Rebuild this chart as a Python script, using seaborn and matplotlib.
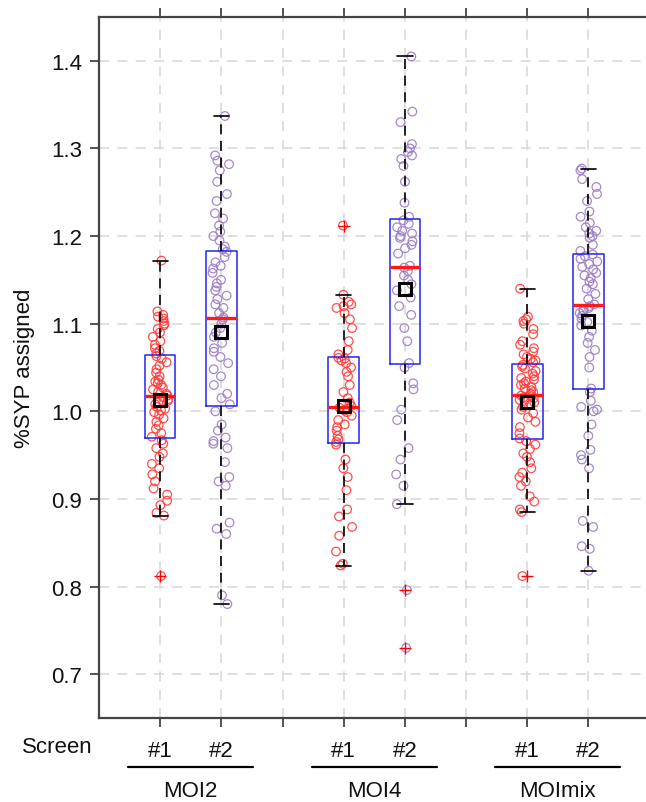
import numpy as np
import pandas as pd
import seaborn as sns
import matplotlib.pyplot as plt

groups = ['MOI2', 'MOI4', 'MOImix']
screens = ['#1', '#2']

# %SYP assigned per group / screen
moi2_s1 = [0.812, 0.881, 0.884, 0.893, 0.898, 0.905, 0.912, 0.920, 0.928, 0.935, 0.940, 0.948, 0.952, 0.958, 0.963, 0.967,
           0.971, 0.975, 0.980, 0.984, 0.988, 0.992, 0.996, 0.999, 1.001, 1.003, 1.005, 1.008, 1.010, 1.012, 1.014, 1.016,
           1.018, 1.020, 1.022, 1.025, 1.027, 1.030, 1.032, 1.034, 1.036, 1.040, 1.044, 1.048, 1.052, 1.056, 1.060, 1.063,
           1.066, 1.069, 1.072, 1.076, 1.080, 1.085, 1.090, 1.094, 1.098, 1.100, 1.103, 1.106, 1.108, 1.110, 1.114, 1.172]
moi2_s2 = [0.780, 0.790, 0.860, 0.866, 0.873, 0.915, 0.920, 0.925, 0.942, 0.958, 0.963, 0.966, 0.970, 0.978, 0.985, 1.000,
           1.008, 1.015, 1.020, 1.030, 1.040, 1.048, 1.055, 1.062, 1.068, 1.072, 1.078, 1.085, 1.090, 1.095, 1.100, 1.105,
           1.107, 1.112, 1.118, 1.122, 1.128, 1.132, 1.138, 1.142, 1.146, 1.150, 1.158, 1.163, 1.166, 1.170, 1.176, 1.182,
           1.185, 1.188, 1.195, 1.200, 1.205, 1.212, 1.220, 1.226, 1.240, 1.248, 1.262, 1.275, 1.282, 1.286, 1.292, 1.337]
moi4_s1 = [0.824, 0.826, 0.840, 0.858, 0.868, 0.880, 0.888, 0.910, 0.925, 0.935, 0.945, 0.962,
           0.965, 0.968, 0.972, 0.978, 0.982, 0.985, 0.990, 0.995, 0.999, 1.001, 1.003, 1.004,
           1.006, 1.010, 1.015, 1.022, 1.030, 1.040, 1.045, 1.050, 1.055, 1.058, 1.060, 1.061,
           1.065, 1.070, 1.080, 1.095, 1.105, 1.112, 1.118, 1.120, 1.122, 1.125, 1.133, 1.212]
moi4_s2 = [0.730, 0.796, 0.894, 0.915, 0.928, 0.945, 0.958, 0.990, 1.002, 1.025, 1.032, 1.050,
           1.055, 1.080, 1.095, 1.110, 1.120, 1.130, 1.138, 1.145, 1.150, 1.155, 1.160, 1.164,
           1.166, 1.180, 1.186, 1.190, 1.194, 1.198, 1.200, 1.203, 1.206, 1.210, 1.214, 1.218,
           1.222, 1.238, 1.262, 1.280, 1.288, 1.292, 1.296, 1.300, 1.305, 1.330, 1.342, 1.405]
moimix_s1 = [0.812, 0.885, 0.888, 0.897, 0.903, 0.915, 0.920, 0.925, 0.930, 0.935, 0.942, 0.948, 0.952, 0.957, 0.962, 0.966,
             0.969, 0.975, 0.982, 0.988, 0.993, 0.998, 1.002, 1.005, 1.008, 1.010, 1.012, 1.013, 1.015, 1.016, 1.017, 1.018,
             1.020, 1.022, 1.024, 1.026, 1.028, 1.030, 1.032, 1.034, 1.036, 1.038, 1.040, 1.043, 1.046, 1.049, 1.051, 1.053,
             1.056, 1.058, 1.060, 1.062, 1.065, 1.068, 1.072, 1.076, 1.080, 1.088, 1.094, 1.100, 1.103, 1.105, 1.108, 1.140]
moimix_s2 = [0.818, 0.843, 0.846, 0.868, 0.875, 0.935, 0.945, 0.950, 0.956, 0.972, 0.985, 1.000, 1.002, 1.005, 1.012, 1.022,
             1.026, 1.050, 1.062, 1.070, 1.078, 1.085, 1.092, 1.098, 1.102, 1.106, 1.109, 1.112, 1.114, 1.116, 1.118, 1.120,
             1.122, 1.128, 1.134, 1.140, 1.145, 1.148, 1.152, 1.155, 1.158, 1.162, 1.165, 1.168, 1.171, 1.174, 1.177, 1.179,
             1.183, 1.190, 1.198, 1.200, 1.203, 1.206, 1.210, 1.215, 1.222, 1.228, 1.240, 1.248, 1.256, 1.265, 1.275, 1.277]

values = {('MOI2', '#1'): moi2_s1, ('MOI2', '#2'): moi2_s2,
          ('MOI4', '#1'): moi4_s1, ('MOI4', '#2'): moi4_s2,
          ('MOImix', '#1'): moimix_s1, ('MOImix', '#2'): moimix_s2}

rows = []
for gi, g in enumerate(groups):
    for si, s in enumerate(screens):
        for v in values[(g, s)]:
            rows.append({'group': g, 'screen': s, 'pos': 3 * gi + si + 1, 'val': v})
df = pd.DataFrame(rows)

sns.set_style('white')
plt.rcParams['font.family'] = ['Liberation Sans', 'DejaVu Sans']
plt.rcParams['text.color'] = '#111111'
plt.rcParams['axes.labelcolor'] = '#111111'

fig = plt.figure(figsize=(6.46, 8.03), dpi=100)
ax = fig.add_axes([99 / 646, 84 / 803, 1 - 99 / 646, 701 / 803])

np.random.seed(3)
point_colors = {'#1': '#ff3b3b', '#2': '#9d7cc8'}
for s in screens:
    # one screen per call: positions are 3 apart, so jitter is in those units
    sns.stripplot(data=df[df['screen'] == s], x='pos', y='val', native_scale=True, jitter=0.048,
                  size=6.2, color=point_colors[s], facecolor='none', edgecolor=point_colors[s],
                  linewidth=0.9, alpha=0.9, ax=ax, zorder=2)

sns.boxplot(data=df, x='pos', y='val', native_scale=True, width=0.5, fill=False, whis=1.5,
            color='#2323f0', showmeans=True, ax=ax,
            boxprops=dict(color='#2323f0', linewidth=1.1),
            medianprops=dict(color='#ff1a1a', linewidth=2.4),
            whiskerprops=dict(color='black', linewidth=1.2, linestyle=(0, (6, 4))),
            capprops=dict(color='black', linewidth=1.2),
            flierprops=dict(marker='+', markeredgecolor='red', markerfacecolor='none',
                            markersize=8, markeredgewidth=1.0),
            meanprops=dict(marker='s', markerfacecolor='none', markeredgecolor='black',
                           markersize=8.5, markeredgewidth=2.2))

ax.set_xlim(0, 8.94)
ax.set_ylim(0.65, 1.45)
ax.set_xticks(range(1, 9))
ax.set_xticklabels(['#1', '#2', '', '#1', '#2', '', '#1', '#2'])
ax.set_yticks(np.arange(0.7, 1.41, 0.1))
ax.set_yticklabels([f'{t:.1f}' for t in np.arange(0.7, 1.41, 0.1)])
ax.set_xlabel('')
ax.set_ylabel('%SYP assigned', fontsize=16, labelpad=12)

ax.grid(True, color='#d9d9d9', linewidth=1.2, linestyle=(0, (6, 5)))
ax.set_axisbelow(True)
for side in ['left', 'top', 'bottom']:
    ax.spines[side].set_color('#444444')
    ax.spines[side].set_linewidth(1.6)
ax.spines['right'].set_visible(False)
ax.tick_params(axis='x', top=True, bottom=True, direction='out', length=6.5, width=1.3,
               color='#444444', labelcolor='#111111', labelsize=16, pad=9)
ax.tick_params(axis='y', left=True, direction='out', length=6.5, width=1.3,
               color='#444444', labelcolor='#111111', labelsize=16, pad=5.5)

fig.text(57 / 646, 1 - 748 / 803, 'Screen', ha='center', va='center', fontsize=16)
trans = ax.get_xaxis_transform()
for gi, g in enumerate(groups):
    c = 3 * gi + 1.5
    ax.plot([c - 1.02, c + 1.02], [-0.07, -0.07], color='black', linewidth=1.6,
            transform=trans, clip_on=False)
    ax.text(c, -0.104, g, ha='center', va='center', fontsize=16, transform=trans)

fig.savefig('out.png', dpi=100)
